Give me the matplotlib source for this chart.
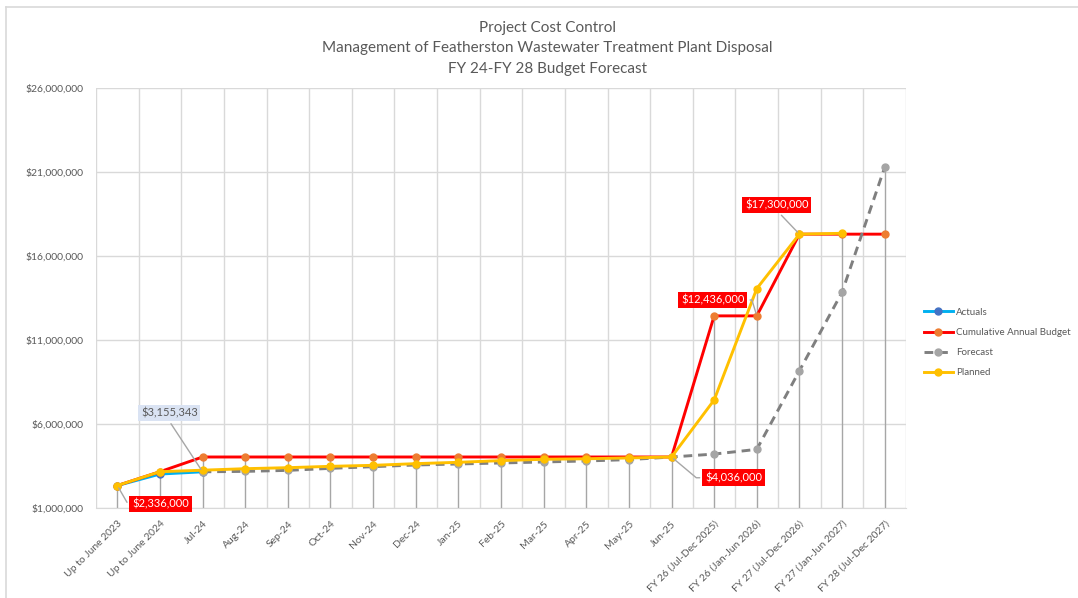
import numpy as np
import matplotlib.pyplot as plt
from matplotlib.lines import Line2D
from matplotlib.ticker import FuncFormatter

plt.rcParams['font.family'] = ['Lato', 'DejaVu Sans']

# Categorias del eje x
categories = ['Up to June 2023', 'Up to June 2024', 'Jul-24', 'Aug-24', 'Sep-24',
              'Oct-24', 'Nov-24', 'Dec-24', 'Jan-25', 'Feb-25', 'Mar-25', 'Apr-25',
              'May-25', 'Jun-25', 'FY 26 (Jul-Dec 2025)', 'FY 26 (Jan-Jun 2026)',
              'FY 27 (Jul-Dec 2026)', 'FY 27 (Jan-Jun 2027)', 'FY 28 (Jul-Dec 2027)']

# Series (None = sin dato)
actuals = [2336000, 3020000, 3155343] + [None] * 16
budget = [2336000, 3160000] + [4036000] * 12 + [12436000, 12436000, 17300000, 17300000, 17300000]
forecast = [None, None, 3155343, 3180000, 3240000, 3360000, 3460000, 3560000, 3620000,
            3680000, 3740000, 3800000, 3880000, 4036000, 4210000, 4490000, 9170000,
            13840000, 21280000]
planned = [2336000, 3160000, 3250000, 3340000, 3400000, 3480000, 3540000, 3640000,
           3720000, 3820000, 3900000, 3930000, 3980000, 4036000, 7430000, 14060000,
           17300000, 17350000, None]

def to_arr(v):
    return np.array([np.nan if a is None else a for a in v], dtype=float)

x = np.arange(len(categories))
series = [
    ('Actuals', to_arr(actuals), '#00B0F0', '#4472C4', '-'),
    ('Cumulative Annual Budget', to_arr(budget), '#FF0000', '#ED7D31', '-'),
    ('Forecast', to_arr(forecast), '#7F7F7F', '#A5A5A5', (0, (3, 2))),
    ('Planned', to_arr(planned), '#FFC000', '#FFC000', '-'),
]

fig = plt.figure(figsize=(10.78, 5.98), dpi=100)
ax = fig.add_axes([96 / 1078, 1 - 508 / 598, 810 / 1078, 420 / 598])

gray_txt = '#595959'
grid_c = '#D9D9D9'

# Lineas de caida (drop lines) desde el valor maximo
all_vals = np.vstack([s[1] for s in series])
tops = np.nanmax(all_vals, axis=0)
ax.vlines(x, 1000000, tops, color='#A6A6A6', lw=1, zorder=1)

for name, vals, lc, mc, ls in series:
    ax.plot(x, vals, color=lc, lw=2.1, linestyle=ls, marker='o', markersize=5,
            markerfacecolor=mc, markeredgecolor=mc, label=name, zorder=3)

ax.set_xlim(-0.5, len(categories) - 0.5)
ax.set_ylim(1000000, 26000000)
ax.set_yticks(np.arange(1000000, 26000001, 5000000))
ax.yaxis.set_major_formatter(FuncFormatter(lambda v, p: f'${v:,.0f}'))
ax.set_xticks(x)
ax.set_xticklabels(categories, rotation=45, ha='right', rotation_mode='anchor')
ax.set_xticks(np.arange(-0.5, len(categories), 1), minor=True)
ax.tick_params(axis='both', which='both', length=0, labelsize=7.5, colors=gray_txt)
ax.tick_params(axis='x', pad=8)
ax.tick_params(axis='y', pad=9)
ax.grid(axis='y', color=grid_c, lw=1, zorder=0)
ax.grid(axis='x', which='minor', color=grid_c, lw=1, zorder=0)
ax.set_axisbelow(True)
for sp in ax.spines.values():
    sp.set_visible(False)
ax.spines['bottom'].set_visible(True)
ax.spines['bottom'].set_color(grid_c)

# Titulo
fig.text(0.508, 1 - 28 / 598, 'Project Cost Control', ha='center', va='center',
         fontsize=11, color=gray_txt)
fig.text(0.508, 1 - 48 / 598, 'Management of Featherston Wastewater Treatment Plant Disposal',
         ha='center', va='center', fontsize=11, color=gray_txt)
fig.text(0.508, 1 - 69 / 598, 'FY 24-FY 28 Budget Forecast', ha='center', va='center',
         fontsize=11, color=gray_txt)

# Etiquetas de datos
red_box = dict(boxstyle='square,pad=0.25', fc='#FF0000', ec='none')
lead = '#A6A6A6'
ax.annotate('$2,336,000', xy=(0, budget[0]), xytext=(1.01, 1240000), ha='center', va='center',
            color='white', fontsize=8, bbox=red_box,
            arrowprops=dict(arrowstyle='-', color=lead, lw=1, relpos=(0, 0.5),
                            connectionstyle='angle,angleA=0,angleB=-60,rad=0'))
ax.annotate('$3,155,343', xy=(2, actuals[2]), xytext=(1.22, 6650000), ha='center', va='center',
            color=gray_txt, fontsize=8,
            bbox=dict(boxstyle='square,pad=0.25', fc='#DAE3F3', ec='none'),
            arrowprops=dict(arrowstyle='-', color=lead, lw=1, relpos=(0.47, 0)))
ax.annotate('$4,036,000', xy=(13, budget[13]), xytext=(14.46, 2800000), ha='center', va='center',
            color='white', fontsize=8, bbox=red_box,
            arrowprops=dict(arrowstyle='-', color=lead, lw=1, relpos=(0, 0.5),
                            connectionstyle='angle,angleA=0,angleB=-40,rad=0'))
ax.annotate('$12,436,000', xy=(15, budget[15]), xytext=(13.97, 13380000), ha='center', va='center',
            color='white', fontsize=8, bbox=red_box,
            arrowprops=dict(arrowstyle='-', color=lead, lw=1, relpos=(1, 0.5),
                            connectionstyle='angle,angleA=0,angleB=107,rad=0'))
ax.annotate('$17,300,000', xy=(16, budget[16]), xytext=(15.47, 19040000), ha='center', va='center',
            color='white', fontsize=8, bbox=red_box,
            arrowprops=dict(arrowstyle='-', color=lead, lw=1, relpos=(0.5, 0)))

# Leyenda
handles, labels = ax.get_legend_handles_labels()
fig.legend(handles, labels, loc='upper left', bbox_to_anchor=(918 / 1078, 1 - 302 / 598),
           frameon=False, fontsize=7, labelcolor=gray_txt, handlelength=3.0,
           handletextpad=0.3, labelspacing=1.15, borderaxespad=0.2)

# Borde del grafico
fig.add_artist(Line2D([6 / 1078, 1], [1 - 7 / 598, 1 - 7 / 598], color=grid_c, lw=1.2))
fig.add_artist(Line2D([6 / 1078, 6 / 1078], [0, 1 - 7 / 598], color=grid_c, lw=1.2))

plt.savefig('out.png', dpi=100)
